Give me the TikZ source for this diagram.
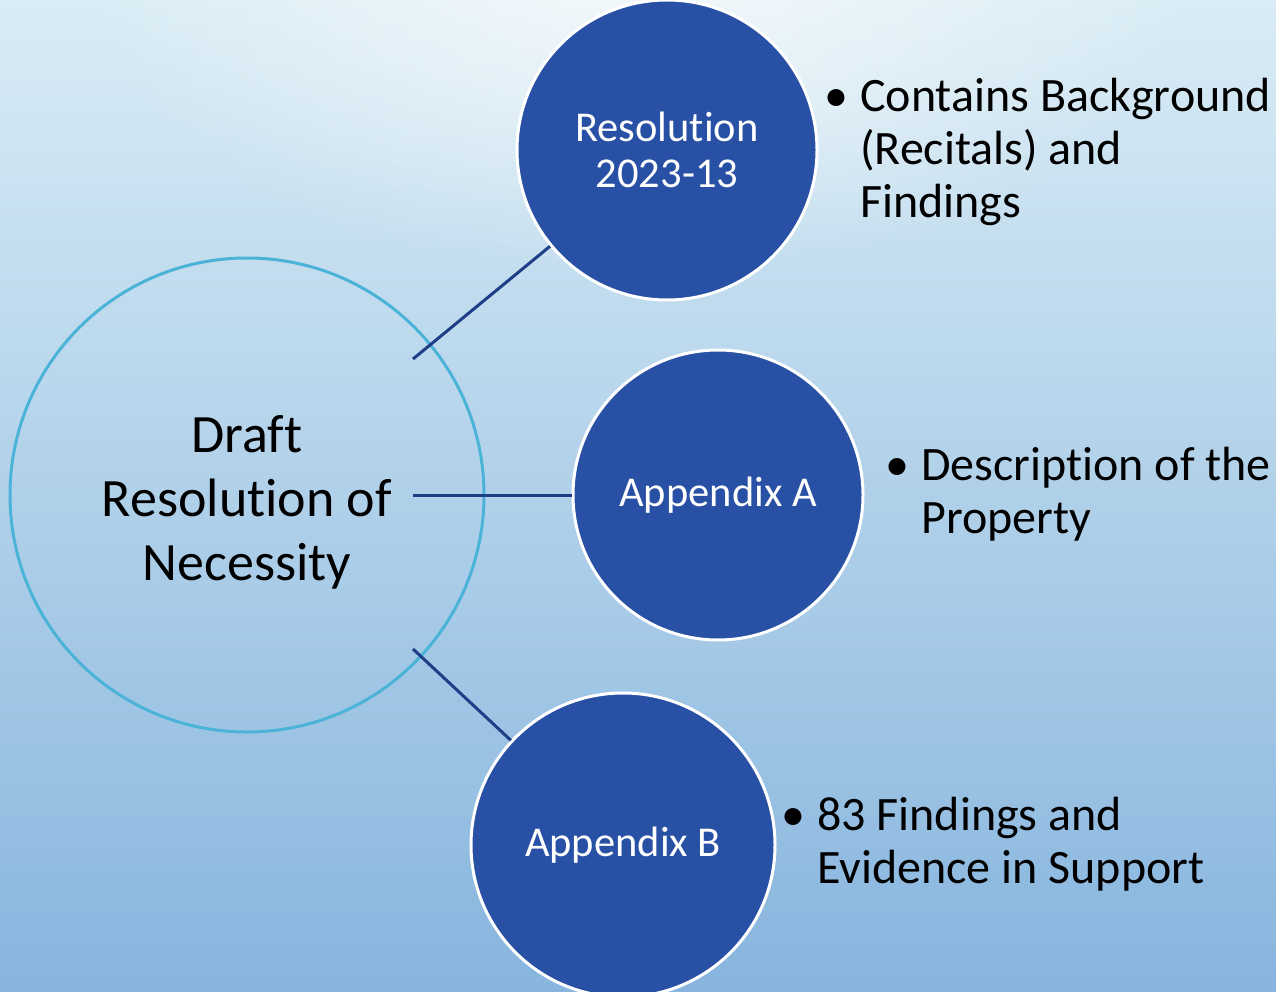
\documentclass[tikz,border=0pt]{standalone}
\usepackage{fontspec}
\setmainfont{Carlito}[RawFeature={-liga}]
\usetikzlibrary{fadings}
\tikzfading[name=glowfade, inner color=transparent!0, outer color=transparent!100]
\definecolor{bgtop}{HTML}{D9ECF5}
\definecolor{bgbot}{HTML}{87B5DE}
\definecolor{bubble}{HTML}{2850A4}
\definecolor{link}{HTML}{1E3F87}
\definecolor{ring}{HTML}{4BB3D7}
\begin{document}
\begin{tikzpicture}[x=1pt,y=-1pt,
  bigring/.style={circle,draw=ring,line width=3pt,minimum size=474pt,inner sep=0pt,align=center,
     font=\fontsize{54}{64}\selectfont},
  bubblenode/.style={circle,fill=bubble,draw=white,line width=3pt,inner sep=0pt,align=center,text=white,
     font=\fontsize{42.5}{46}\selectfont},
  linker/.style={draw=link,line width=3pt},
  bullettext/.style={anchor=base west,inner sep=0pt,align=left,font=\fontsize{48}{53}\selectfont},
  bulletdot/.style={anchor=base west,inner sep=0pt,font=\fontsize{48}{53}\selectfont}]
\useasboundingbox (0,0) rectangle (1276,992);
\shade[top color=bgtop,bottom color=bgbot] (0,0) rectangle (1276,992);
\begin{scope}
\clip (0,0) rectangle (1276,992);
\fill[white,path fading=glowfade,fill opacity=0.7] (640,-20) ellipse (560 and 300);
\node[bigring] (draft) at (247,495) {\raisebox{-7pt}[\height][\depth]{\parbox{400pt}{\centering Draft\\Resolution of\\Necessity}}};
\node[bubblenode,minimum size=300pt] (res) at (667,150) {Resolution\\2023-13};
\node[bubblenode,minimum size=290pt] (appa) at (718,495) {Appendix A};
\node[bubblenode,minimum size=304pt] (appb) at (623,845) {Appendix B};
\end{scope}
\coordinate (s1) at (413,359);
\coordinate (s2) at (413,495);
\coordinate (s3) at (413,649);
\draw[linker] (s1) -- (res);
\draw[linker] (s2) -- (appa);
\draw[linker] (s3) -- (appb);
\node[bulletdot] (b1) at (824,112) {•};
\node[bullettext] (t1) at (860,218) {Contains Background\\(Recitals) and\\Findings};
\node[bulletdot] (b2) at (885,480) {•};
\node[bullettext] (t2) at (921,533) {Description of the\\Property};
\node[bulletdot] (b3) at (781,830) {•};
\node[bullettext] (t3) at (817,883) {83 Findings and\\Evidence in Support};
\end{tikzpicture}
\end{document}
